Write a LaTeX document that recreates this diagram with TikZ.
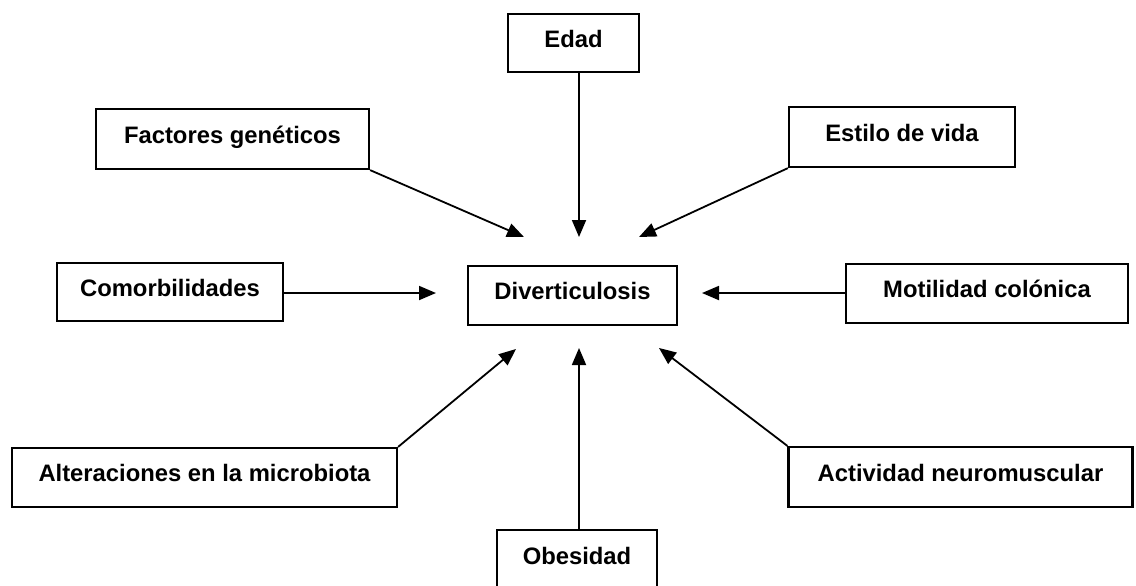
\documentclass[tikz,border=0pt]{standalone}
\usepackage{fontspec}
\setmainfont{Liberation Sans}
\usetikzlibrary{arrows.meta}
\tikzset{
  fbox/.style={draw, line width=1.1pt, inner sep=0pt, text height=8.5pt, text depth=4.5pt,
    font=\fontsize{11.9pt}{14pt}\selectfont\bfseries},
  arr/.style={line width=0.9pt, -{Triangle[length=8.5pt,width=7pt]}}
}
\begin{document}
\begin{tikzpicture}[x=0.5pt,y=-0.5pt]
\useasboundingbox (0,0) rectangle (1136,585);
\clip (0,0) rectangle (1136,585);
% boxes
\node[fbox, minimum width=65.5pt, minimum height=29pt] (edad) at (573.5,43) {Edad};
\node[fbox, minimum width=136.5pt, minimum height=30pt] (fac) at (232.5,139) {Factores genéticos};
\node[fbox, minimum width=113pt, minimum height=30pt] (est) at (902,137) {Estilo de vida};
\node[fbox, minimum width=113pt, minimum height=29pt] (com) at (170,292) {Comorbilidades};
\node[fbox, minimum width=104.5pt, minimum height=29.5pt] (div) at (572.5,295.5) {Diverticulosis};
\node[fbox, minimum width=141pt, minimum height=29.5pt] (mot) at (987,293.5) {Motilidad colónica};
\node[fbox, minimum width=192.5pt, minimum height=29.5pt] (alt) at (204.5,477.5) {Alteraciones en la microbiota};
\node[fbox, minimum width=172pt, minimum height=30pt] (act) at (960.5,477) {Actividad neuromuscular};
\node[fbox, minimum width=80pt, minimum height=30pt] (obe) at (577,560) {Obesidad};
% arrow tips near Diverticulosis
\coordinate (tEdad) at (579,237);
\coordinate (tFac) at (524,237);
\coordinate (tEst) at (639,237);
\coordinate (tCom) at (436,293);
\coordinate (tMot) at (702,293);
\coordinate (tAlt) at (516,349);
\coordinate (tObe) at (579,348);
\coordinate (tAct) at (659,348);
% connectors
\draw[arr] (edad.south -| tEdad) -- (tEdad);
\draw[arr] (fac.south east) -- (tFac);
\draw[arr] (est.south west) -- (tEst);
\draw[arr] (com.east |- tCom) -- (tCom);
\draw[arr] (mot.west |- tMot) -- (tMot);
\draw[arr] (alt.north east) -- (tAlt);
\draw[arr] (obe.north -| tObe) -- (tObe);
\draw[arr] (act.north west) -- (tAct);
\end{tikzpicture}
\end{document}
